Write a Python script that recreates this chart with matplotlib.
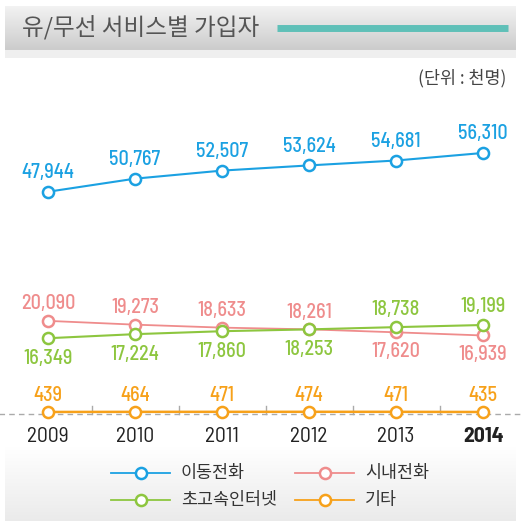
import numpy as np
import matplotlib
matplotlib.use("Agg")
import matplotlib.pyplot as plt

plt.rcParams["font.family"] = ["Noto Sans CJK KR", "DejaVu Sans"]

years = [2009, 2010, 2011, 2012, 2013, 2014]
year_labels = ["2009", "2010", "2011", "2012", "2013", "2014"]
mobile = [47944, 50767, 52507, 53624, 54681, 56310]
local = [20090, 19273, 18633, 18261, 17620, 16939]
broadband = [16349, 17224, 17860, 18253, 18738, 19199]
other = [439, 464, 471, 474, 471, 435]
series_names = ["이동전화", "시내전화", "초고속인터넷", "기타"]

c_blue = "#1ba1e2"
c_pink = "#ef8c8c"
c_green = "#8dc63f"
c_orange = "#f7a11a"
num_font = ["Barlow Semi Condensed", "DejaVu Sans"]

W = H = 521
fig = plt.figure(figsize=(W / 100, H / 100), dpi=100)
fig.patch.set_facecolor("white")

# background decorations in pixel coords
bg = fig.add_axes([0, 0, 1, 1], zorder=0)
bg.set_xlim(0, W)
bg.set_ylim(H, 0)
bg.axis("off")
top = np.linspace(0.95, 0.80, 64).reshape(-1, 1)
bg.imshow(np.dstack([top] * 3), extent=(5, 516, 50, 6), aspect="auto")
bg.fill_between([5, 516], 50, 58, color="#efefef", lw=0)
bot = np.linspace(1.0, 0.92, 64).reshape(-1, 1)
bg.imshow(np.dstack([bot] * 3), extent=(5, 516, 521, 446), aspect="auto")
bg.plot([277, 508], [27.5, 27.5], color="#5fc0b8", lw=5, solid_capstyle="butt")
bg.text(22, 28, "유/무선 서비스별 가입자", fontsize=17, color="#555555",
        va="center", ha="left", fontweight="medium")
bg.text(506, 78, "(단위 : 천명)", fontsize=12.5, color="#444444",
        va="center", ha="right")

# data axes covering the whole figure
ax = fig.add_axes([0, 0, 1, 1], zorder=1)
ax.patch.set_alpha(0)
ax.set_xlim(2009 - 48 / 87, 2009 + (W - 48) / 87)
b = 259 / (56310 - 439)
ax.set_ylim((414 - H) / b, 414 / b)
ax.axis("off")

# baseline and ticks
ax.plot([2008.41, 2014.44], [0, 0], color="#aaaaaa", lw=1, ls=(0, (4, 3)), zorder=1)
for i in range(5):
    xm = years[i] + 0.5
    ax.plot([xm, xm], [0, 8 / b], color="#aaaaaa", lw=1, zorder=1)

def draw(vals, color, lw):
    ax.plot(years, vals, color=color, lw=lw, marker="o", ms=8,
            mfc="white", mec=color, mew=1.8, zorder=3)

draw(mobile, c_blue, 1.5)
draw(local, c_pink, 1.3)
draw(broadband, c_green, 1.5)
draw(other, c_orange, 1.8)

def label(x, v, color, off):
    ax.annotate(f"{v:,}", (x, v), xytext=(0, off), textcoords="offset pixels",
                ha="center", va="center", fontsize=14.5, color=color,
                family=num_font, fontweight="medium")

for x, v in zip(years, mobile):
    label(x, v, c_blue, 19)
for i, (x, v) in enumerate(zip(years, local)):
    label(x, v, c_pink, 17 if i < 4 else -19)
for i, (x, v) in enumerate(zip(years, broadband)):
    label(x, v, c_green, -20 if i < 4 else 18)
for x, v in zip(years, other):
    label(x, v, c_orange, 16)

for i, (x, t) in enumerate(zip(years, year_labels)):
    ax.annotate(t, (x, 0), xytext=(0, -22), textcoords="offset pixels",
                ha="center", va="center", fontsize=15.5, color="#222222",
                family=num_font, fontweight="bold" if i == 5 else "normal")

# legend, drawn by hand in pixel coords
leg_colors = [c_blue, c_pink, c_green, c_orange]
leg_pos = [(111, 473), (295, 473), (111, 500), (295, 500)]
for (lx, ly), c, name in zip(leg_pos, leg_colors, series_names):
    bg.plot([lx, lx + 59], [ly, ly], color=c, lw=1.3)
    bg.plot([lx + 29.5], [ly], marker="o", ms=8, mfc="white", mec=c, mew=1.8)
    bg.text(lx + 70, ly, name, fontsize=12.5, color="#333333", va="center", ha="left")

fig.savefig("out.png", dpi=100)
